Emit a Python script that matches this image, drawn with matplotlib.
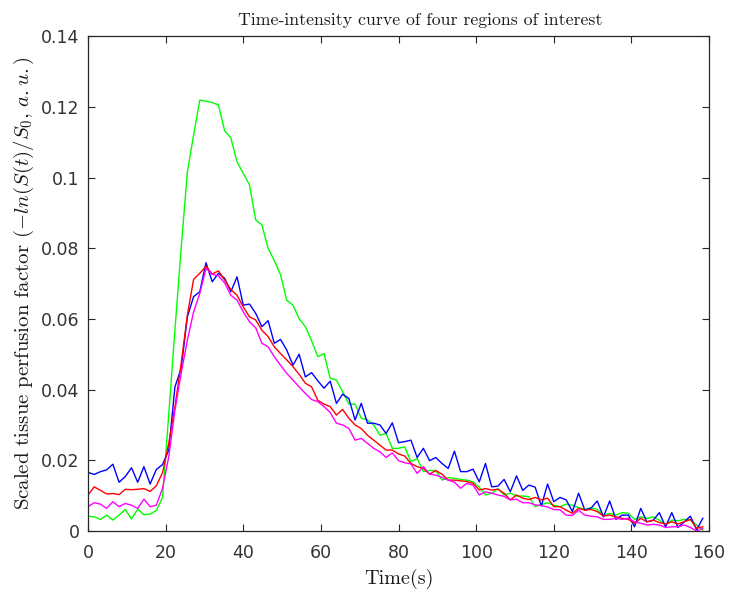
import matplotlib
matplotlib.use("Agg")
import matplotlib.pyplot as plt
import numpy as np
from matplotlib.ticker import FuncFormatter

# sampling: 100 frames, 1.6 s apart
t = np.arange(100) * 1.6

roi_green = [0.0042, 0.0040, 0.0033, 0.0045, 0.0031, 0.0045, 0.0061, 0.0034, 0.0062, 0.0046,
             0.0048, 0.0058, 0.0095, 0.0330, 0.0570, 0.0800, 0.1016, 0.1120, 0.1219, 0.1216,
             0.1212, 0.1205, 0.1132, 0.1112, 0.1044, 0.1012, 0.0979, 0.0880, 0.0866, 0.0800,
             0.0765, 0.0725, 0.0653, 0.0639, 0.0600, 0.0578, 0.0538, 0.0493, 0.0502, 0.0432,
             0.0427, 0.0394, 0.0359, 0.0359, 0.0319, 0.0314, 0.0300, 0.0271, 0.0276, 0.0234,
             0.0234, 0.0238, 0.0196, 0.0205, 0.0168, 0.0171, 0.0171, 0.0144, 0.0151, 0.0149,
             0.0146, 0.0144, 0.0139, 0.0124, 0.0102, 0.0107, 0.0120, 0.0102, 0.0107, 0.0099,
             0.0099, 0.0097, 0.0069, 0.0075, 0.0080, 0.0073, 0.0069, 0.0076, 0.0073, 0.0066,
             0.0061, 0.0066, 0.0061, 0.0045, 0.0050, 0.0045, 0.0052, 0.0050, 0.0033, 0.0040,
             0.0036, 0.0040, 0.0031, 0.0017, 0.0031, 0.0029, 0.0033, 0.0031, 0.0017, 0.0003]

roi_blue = [0.0166, 0.0160, 0.0168, 0.0173, 0.0189, 0.0138, 0.0154, 0.0179, 0.0138, 0.0182,
            0.0133, 0.0174, 0.0188, 0.0229, 0.0408, 0.0460, 0.0606, 0.0663, 0.0677, 0.0759,
            0.0705, 0.0729, 0.0715, 0.0677, 0.0719, 0.0639, 0.0642, 0.0616, 0.0578, 0.0595,
            0.0531, 0.0542, 0.0512, 0.0469, 0.0500, 0.0436, 0.0448, 0.0425, 0.0404, 0.0424,
            0.0361, 0.0387, 0.0375, 0.0314, 0.0361, 0.0305, 0.0305, 0.0300, 0.0276, 0.0306,
            0.0250, 0.0253, 0.0257, 0.0208, 0.0234, 0.0199, 0.0208, 0.0191, 0.0177, 0.0226,
            0.0168, 0.0168, 0.0175, 0.0139, 0.0191, 0.0125, 0.0127, 0.0146, 0.0111, 0.0156,
            0.0115, 0.0130, 0.0124, 0.0071, 0.0133, 0.0083, 0.0095, 0.0088, 0.0055, 0.0107,
            0.0059, 0.0065, 0.0085, 0.0040, 0.0085, 0.0033, 0.0045, 0.0045, 0.0012, 0.0064,
            0.0026, 0.0030, 0.0052, 0.0012, 0.0052, 0.0010, 0.0026, 0.0042, 0.0003, 0.0036]

roi_red = [0.0102, 0.0125, 0.0115, 0.0105, 0.0106, 0.0103, 0.0118, 0.0117, 0.0118, 0.0120,
           0.0112, 0.0128, 0.0165, 0.0248, 0.0352, 0.0474, 0.0611, 0.0712, 0.0729, 0.0749,
           0.0727, 0.0736, 0.0710, 0.0683, 0.0667, 0.0634, 0.0606, 0.0597, 0.0568, 0.0550,
           0.0521, 0.0502, 0.0484, 0.0465, 0.0443, 0.0418, 0.0408, 0.0370, 0.0359, 0.0352,
           0.0328, 0.0344, 0.0319, 0.0300, 0.0290, 0.0271, 0.0257, 0.0243, 0.0229, 0.0229,
           0.0218, 0.0212, 0.0191, 0.0182, 0.0177, 0.0161, 0.0171, 0.0161, 0.0144, 0.0144,
           0.0142, 0.0140, 0.0135, 0.0116, 0.0120, 0.0116, 0.0118, 0.0107, 0.0088, 0.0102,
           0.0093, 0.0089, 0.0095, 0.0088, 0.0093, 0.0069, 0.0069, 0.0059, 0.0050, 0.0064,
           0.0059, 0.0061, 0.0055, 0.0042, 0.0045, 0.0040, 0.0036, 0.0033, 0.0022, 0.0036,
           0.0026, 0.0031, 0.0024, 0.0020, 0.0026, 0.0020, 0.0026, 0.0033, 0.0008, 0.0012]

roi_magenta = [0.0069, 0.0080, 0.0076, 0.0064, 0.0083, 0.0069, 0.0078, 0.0073, 0.0064, 0.0090,
               0.0069, 0.0073, 0.0121, 0.0210, 0.0342, 0.0446, 0.0540, 0.0620, 0.0672, 0.0743,
               0.0726, 0.0722, 0.0702, 0.0667, 0.0653, 0.0620, 0.0592, 0.0575, 0.0531, 0.0521,
               0.0493, 0.0469, 0.0446, 0.0427, 0.0408, 0.0389, 0.0372, 0.0366, 0.0352, 0.0335,
               0.0305, 0.0300, 0.0290, 0.0257, 0.0262, 0.0248, 0.0234, 0.0224, 0.0208, 0.0221,
               0.0199, 0.0193, 0.0190, 0.0163, 0.0182, 0.0161, 0.0158, 0.0152, 0.0144, 0.0138,
               0.0121, 0.0135, 0.0130, 0.0102, 0.0111, 0.0107, 0.0102, 0.0098, 0.0088, 0.0090,
               0.0080, 0.0080, 0.0074, 0.0072, 0.0068, 0.0061, 0.0060, 0.0045, 0.0044, 0.0059,
               0.0045, 0.0042, 0.0040, 0.0033, 0.0033, 0.0036, 0.0033, 0.0036, 0.0026, 0.0022,
               0.0017, 0.0019, 0.0017, 0.0010, 0.0012, 0.0012, 0.0017, 0.0010, 0.0000, 0.0007]

x_ticks = [0, 20, 40, 60, 80, 100, 120, 140, 160]
y_ticks = [0, 0.02, 0.04, 0.06, 0.08, 0.1, 0.12, 0.14]

plt.rcParams['mathtext.fontset'] = 'cm'
plt.rcParams['axes.unicode_minus'] = False

fig = plt.figure(figsize=(7.44, 5.92), dpi=100)
ax = fig.add_axes([0.1183, 0.103, 0.8347, 0.836])

ax.plot(t, roi_green, color=(0, 1, 0), lw=1.0)
ax.plot(t, roi_blue, color=(0, 0, 1), lw=1.0)
ax.plot(t, roi_red, color=(1, 0, 0), lw=1.0)
ax.plot(t, roi_magenta, color=(1, 0, 1), lw=1.0)

ax.set_xlim(0, 160)
ax.set_ylim(0, 0.14)
ax.set_xticks(x_ticks)
ax.set_yticks(y_ticks)
ax.yaxis.set_major_formatter(FuncFormatter(lambda v, p: '%g' % round(v, 4)))

dark = '#262626'
for s in ax.spines.values():
    s.set_color(dark)
    s.set_linewidth(0.9)
ax.tick_params(direction='in', length=5, width=0.8, colors=dark,
               top=True, right=True, labelsize=12.5)
ax.tick_params(axis='x', pad=9)
ax.tick_params(axis='y', pad=6)
for lab in ax.get_xticklabels() + ax.get_yticklabels():
    lab.set_family('DejaVu Sans')
    lab.set_color('#333333')

ax.set_title('Time-intensity curve of four regions of interest',
             family='cmr10', fontsize=12.8, pad=8, color='#1a1a1a', x=0.535)
ax.set_xlabel('Time(s)', family='cmr10', fontsize=14.5, labelpad=5, color='#1a1a1a')
ax.set_ylabel(r'Scaled tissue perfusion factor $(-ln(S(t)/S_0,\, a.u.)$',
              family='cmr10', fontsize=15, labelpad=4, color='#1a1a1a')

fig.savefig('out.png', dpi=100, facecolor='white')
